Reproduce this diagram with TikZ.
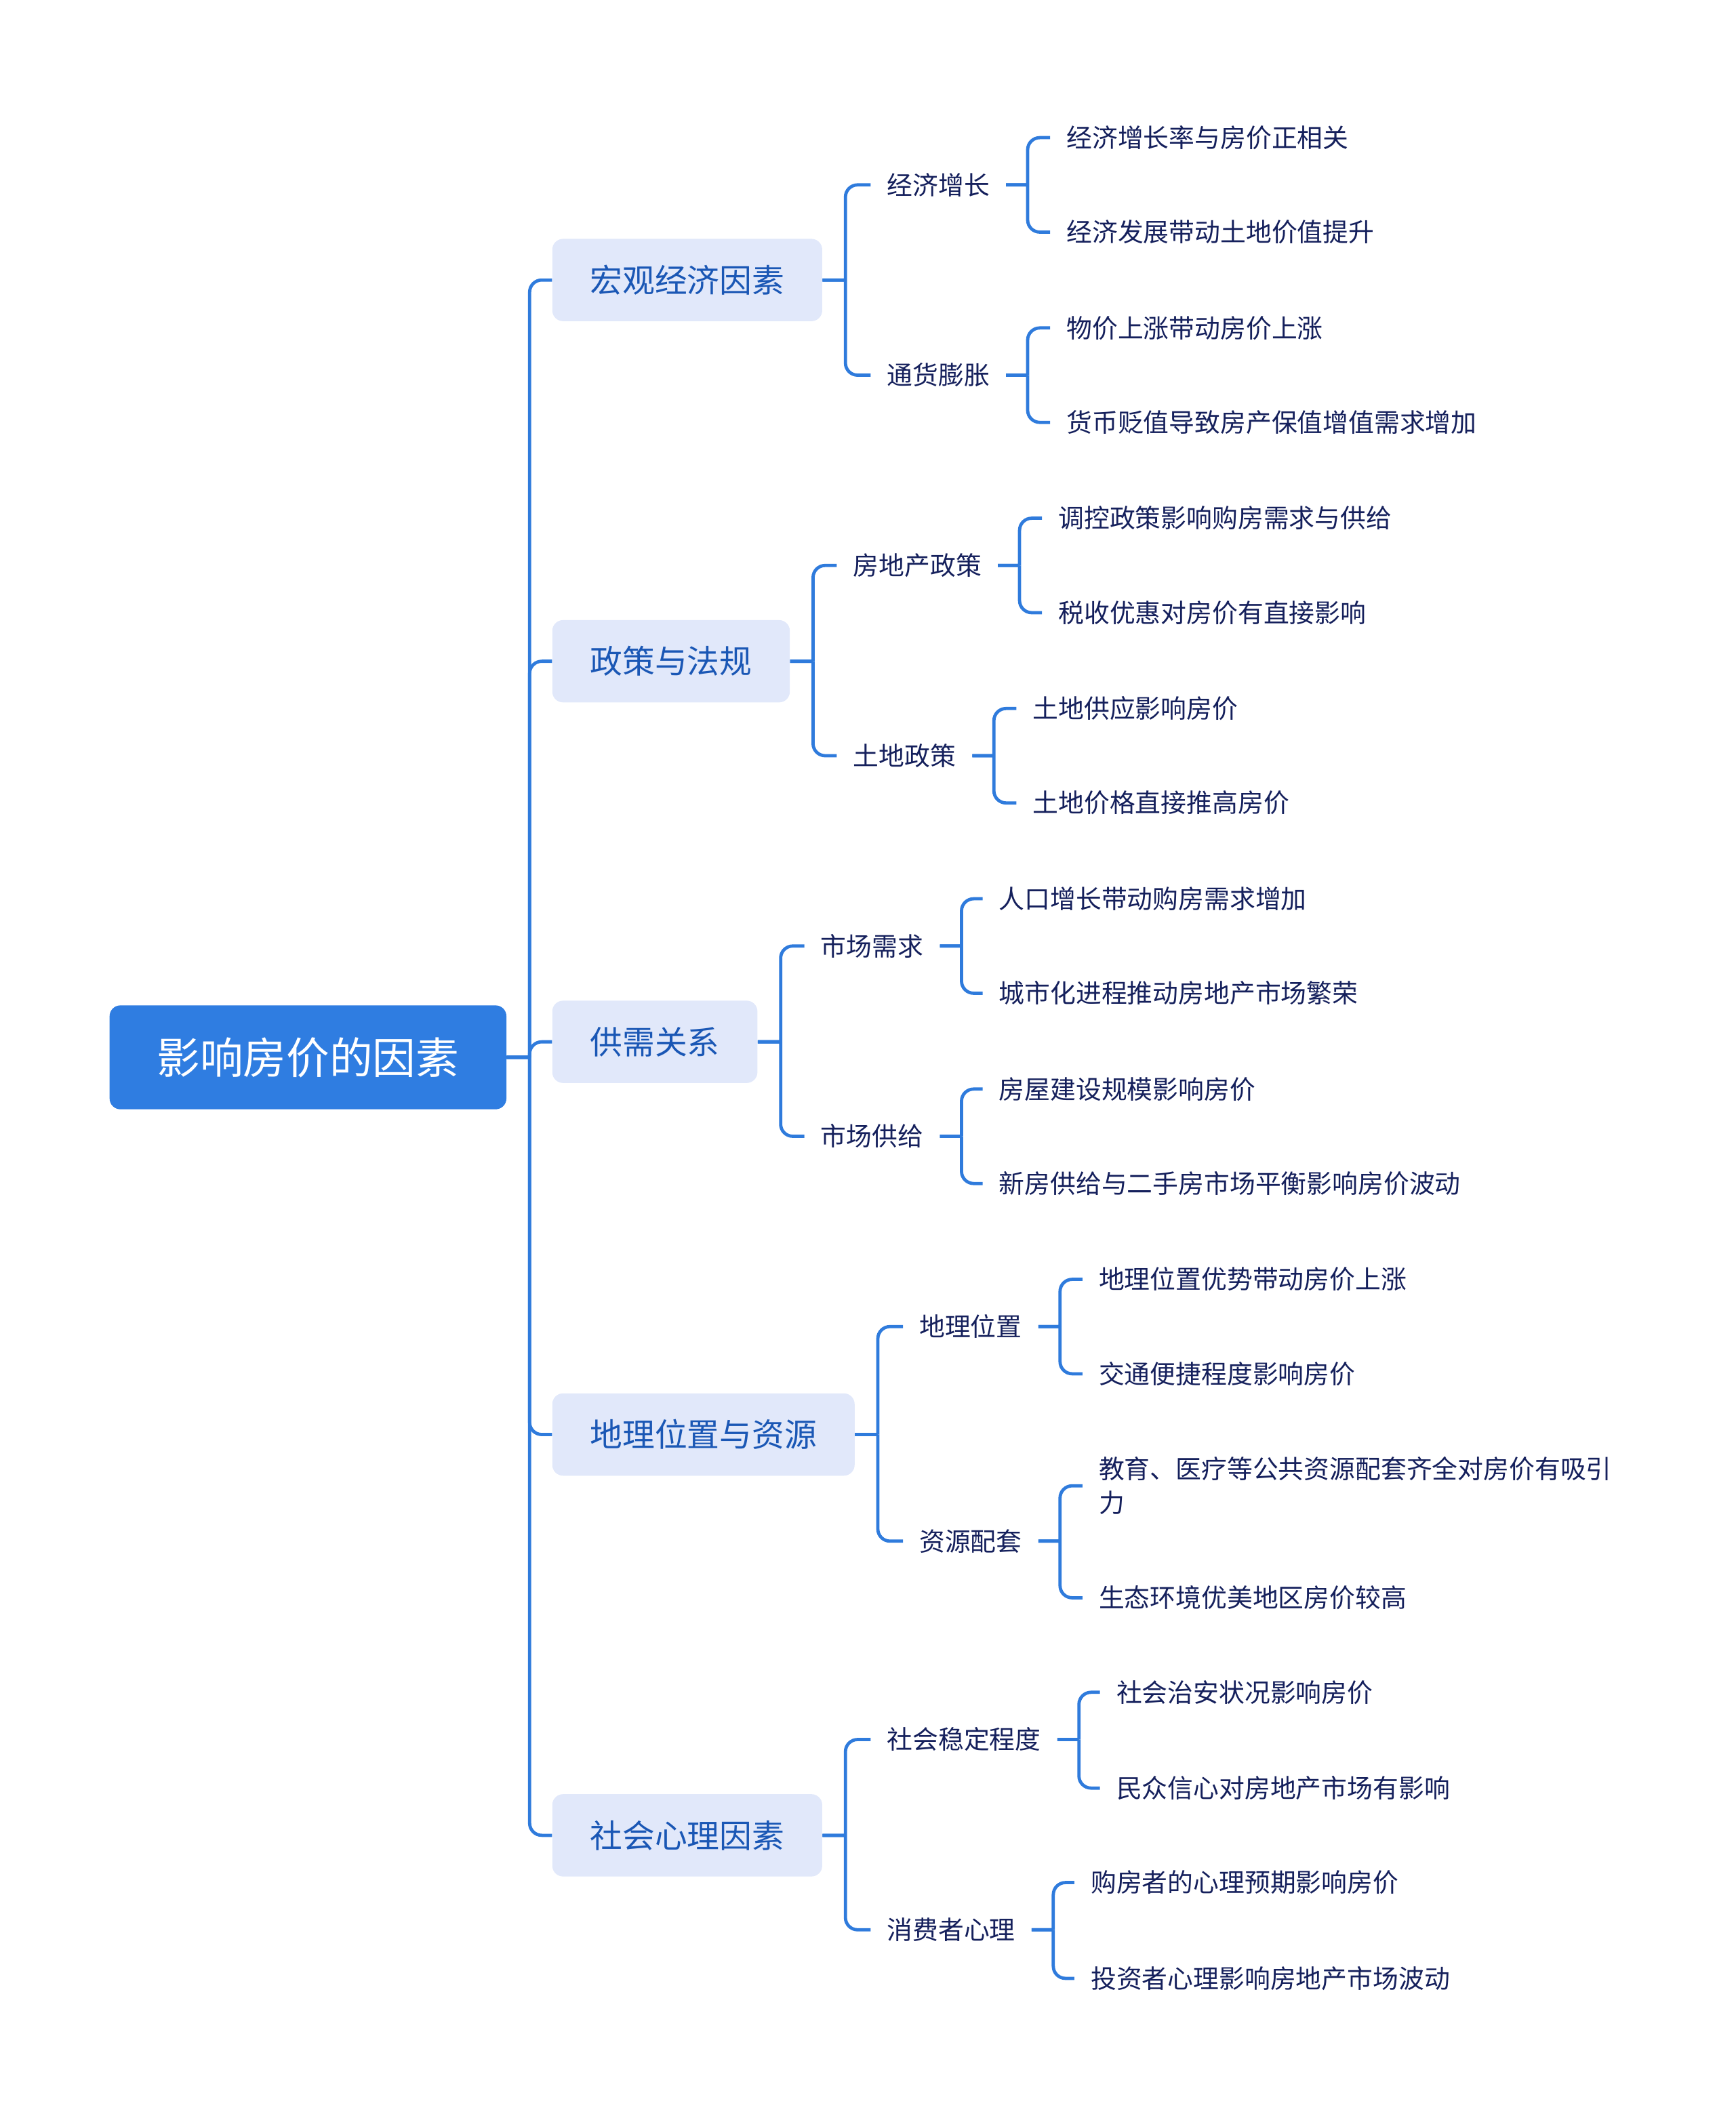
\documentclass[tikz,border=0pt]{standalone}
\usepackage{fontspec}
\setmainfont{Noto Sans CJK SC}
\usetikzlibrary{positioning}
\definecolor{rootblue}{RGB}{47,125,225}
\definecolor{linkblue}{RGB}{47,123,220}
\definecolor{catfill}{RGB}{225,232,250}
\definecolor{cattext}{RGB}{26,87,181}
\definecolor{leaftext}{RGB}{21,32,92}

\begin{document}
\begin{tikzpicture}[
  x=1pt, y=-1pt,
  rootbox/.style={rectangle, fill=rootblue, text=white, rounded corners=8pt,
                  anchor=west, minimum width=294pt, minimum height=77pt,
                  font=\fontsize{32}{38}\selectfont},
  cat/.style={rectangle, fill=catfill, text=cattext, rounded corners=8pt,
              anchor=west, inner xsep=28pt, minimum height=61pt,
              font=\fontsize{24}{30}\selectfont},
  sub/.style={anchor=west, inner xsep=12pt, inner ysep=2pt, align=left,
              text=leaftext, font=\fontsize{19}{25}\selectfont},
  leaf/.style={sub},
  link/.style={draw=linkblue, line width=2.4pt, rounded corners=9pt}
]
\useasboundingbox (0,0) rectangle (1286,1568);
% root and main branches
\node[rootbox] (root) at (81,783.5) {影响房价的因素};
\node[cat] (c1) at (409,207.5) {宏观经济因素};
\node[cat] (c2) at (409,490) {政策与法规};
\node[cat] (c3) at (409,772) {供需关系};
\node[cat] (c4) at (409,1063) {地理位置与资源};
\node[cat] (c5) at (409,1360) {社会心理因素};
% second level
\node[sub] (s11) at (645,137) {经济增长};
\node[sub] (s12) at (645,278) {通货膨胀};
\node[sub] (s21) at (620,419) {房地产政策};
\node[sub] (s22) at (620,560) {土地政策};
\node[sub] (s31) at (596,701) {市场需求};
\node[sub] (s32) at (596,842) {市场供给};
\node[sub] (s41) at (669,983) {地理位置};
\node[sub] (s42) at (669,1142) {资源配套};
\node[sub] (s51) at (645,1289) {社会稳定程度};
\node[sub] (s52) at (645,1430) {消费者心理};
% leaves
\node[leaf] (l111) at (778,102) {经济增长率与房价正相关};
\node[leaf] (l112) at (778,172) {经济发展带动土地价值提升};
\node[leaf] (l121) at (778,243) {物价上涨带动房价上涨};
\node[leaf] (l122) at (778,313) {货币贬值导致房产保值增值需求增加};
\node[leaf] (l211) at (772,384) {调控政策影响购房需求与供给};
\node[leaf] (l212) at (772,454) {税收优惠对房价有直接影响};
\node[leaf] (l221) at (753,525) {土地供应影响房价};
\node[leaf] (l222) at (753,595) {土地价格直接推高房价};
\node[leaf] (l311) at (728,666) {人口增长带动购房需求增加};
\node[leaf] (l312) at (728,736) {城市化进程推动房地产市场繁荣};
\node[leaf] (l321) at (728,807) {房屋建设规模影响房价};
\node[leaf] (l322) at (728,877) {新房供给与二手房市场平衡影响房价波动};
\node[leaf] (l411) at (802,948) {地理位置优势带动房价上涨};
\node[leaf] (l412) at (802,1018) {交通便捷程度影响房价};
\node[leaf] (l421) at (802,1101) {教育、医疗等公共资源配套齐全对房价有吸引\\力};
\node[leaf] (l422) at (802,1184) {生态环境优美地区房价较高};
\node[leaf] (l511) at (815,1254) {社会治安状况影响房价};
\node[leaf] (l512) at (815,1325) {民众信心对房地产市场有影响};
\node[leaf] (l521) at (796,1395) {购房者的心理预期影响房价};
\node[leaf] (l522) at (796,1466) {投资者心理影响房地产市场波动};
% connectors: root -> main branches
\draw[link] (root.east) -- ++(17,0) ++(0,0) |- (c1.west);
\draw[link] (root.east) -- ++(17,0) ++(0,0) |- (c2.west);
\draw[link] (root.east) -- ++(17,0) ++(0,0) |- (c3.west);
\draw[link] (root.east) -- ++(17,0) ++(0,0) |- (c4.west);
\draw[link] (root.east) -- ++(17,0) ++(0,0) |- (c5.west);
% main branches -> second level
\draw[link] (c1.east) -- ++(17,0) ++(0,0) |- (s11.west);
\draw[link] (c1.east) -- ++(17,0) ++(0,0) |- (s12.west);
\draw[link] (c2.east) -- ++(17,0) ++(0,0) |- (s21.west);
\draw[link] (c2.east) -- ++(17,0) ++(0,0) |- (s22.west);
\draw[link] (c3.east) -- ++(17,0) ++(0,0) |- (s31.west);
\draw[link] (c3.east) -- ++(17,0) ++(0,0) |- (s32.west);
\draw[link] (c4.east) -- ++(17,0) ++(0,0) |- (s41.west);
\draw[link] (c4.east) -- ++(17,0) ++(0,0) |- (s42.west);
\draw[link] (c5.east) -- ++(17,0) ++(0,0) |- (s51.west);
\draw[link] (c5.east) -- ++(17,0) ++(0,0) |- (s52.west);
% second level -> leaves
\draw[link] (s11.east) -- ++(16,0) ++(0,0) |- (l111.west);
\draw[link] (s11.east) -- ++(16,0) ++(0,0) |- (l112.west);
\draw[link] (s12.east) -- ++(16,0) ++(0,0) |- (l121.west);
\draw[link] (s12.east) -- ++(16,0) ++(0,0) |- (l122.west);
\draw[link] (s21.east) -- ++(16,0) ++(0,0) |- (l211.west);
\draw[link] (s21.east) -- ++(16,0) ++(0,0) |- (l212.west);
\draw[link] (s22.east) -- ++(16,0) ++(0,0) |- (l221.west);
\draw[link] (s22.east) -- ++(16,0) ++(0,0) |- (l222.west);
\draw[link] (s31.east) -- ++(16,0) ++(0,0) |- (l311.west);
\draw[link] (s31.east) -- ++(16,0) ++(0,0) |- (l312.west);
\draw[link] (s32.east) -- ++(16,0) ++(0,0) |- (l321.west);
\draw[link] (s32.east) -- ++(16,0) ++(0,0) |- (l322.west);
\draw[link] (s41.east) -- ++(16,0) ++(0,0) |- (l411.west);
\draw[link] (s41.east) -- ++(16,0) ++(0,0) |- (l412.west);
\draw[link] (s42.east) -- ++(16,0) ++(0,0) |- (l421.west);
\draw[link] (s42.east) -- ++(16,0) ++(0,0) |- (l422.west);
\draw[link] (s51.east) -- ++(16,0) ++(0,0) |- (l511.west);
\draw[link] (s51.east) -- ++(16,0) ++(0,0) |- (l512.west);
\draw[link] (s52.east) -- ++(16,0) ++(0,0) |- (l521.west);
\draw[link] (s52.east) -- ++(16,0) ++(0,0) |- (l522.west);
\end{tikzpicture}
\end{document}
